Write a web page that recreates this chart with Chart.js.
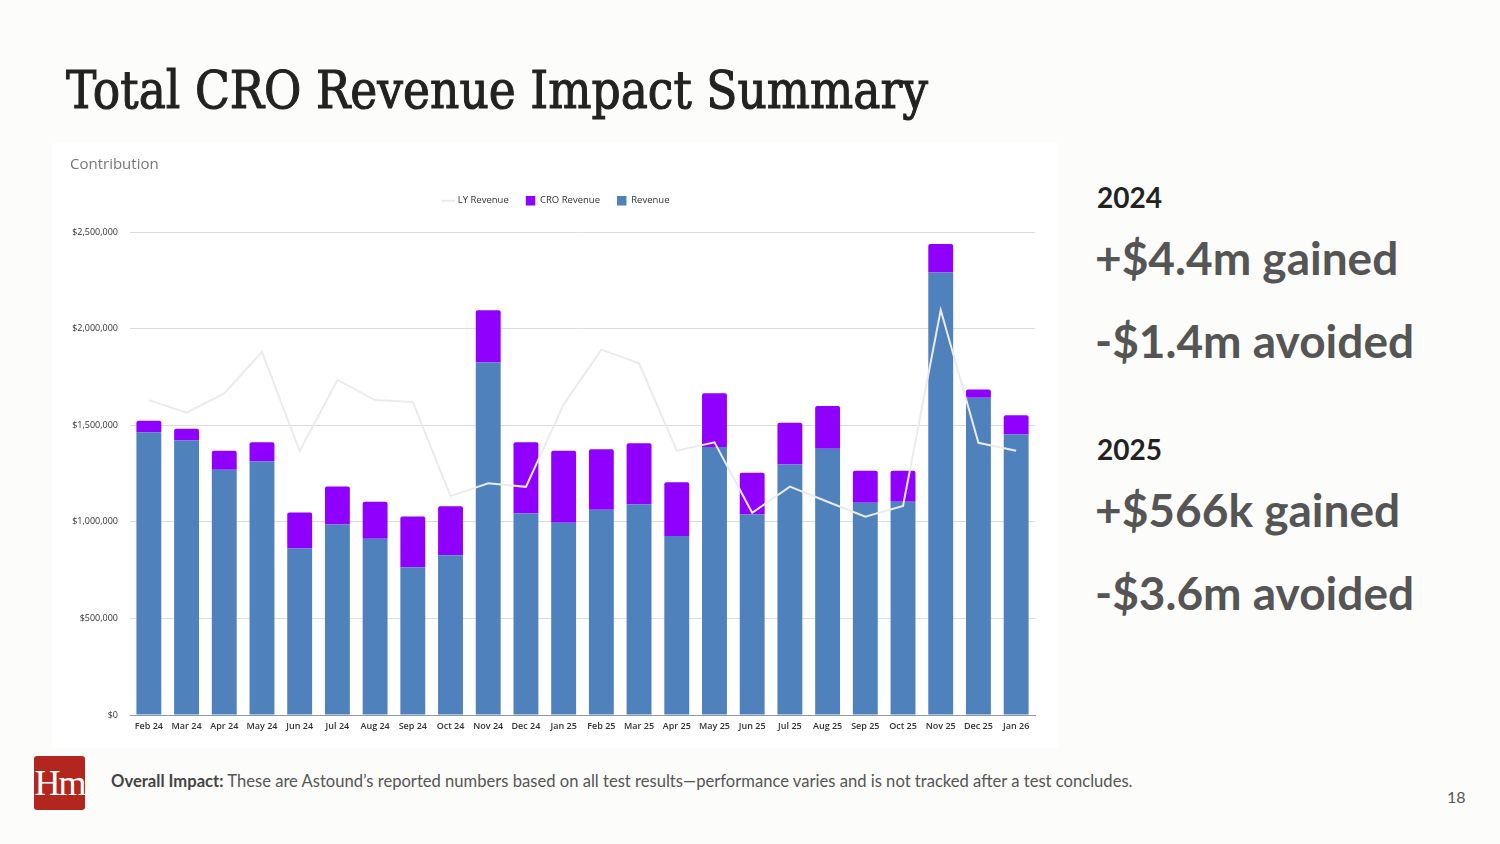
<!DOCTYPE html>
<html>
<head>
<meta charset="utf-8">
<script src="https://cdn.jsdelivr.net/npm/chart.js@4.4.1/dist/chart.umd.min.js"></script>
<style>
  html, body { margin: 0; padding: 0; }
  body { width: 1500px; height: 844px; background: #fcfcfa; position: relative; overflow: hidden; font-family: Lato, sans-serif; }
  #title { position: absolute; left: 66px; top: 60px; font-family: "DejaVu Serif", serif; font-weight: normal; font-size: 52px; color: #222; -webkit-text-stroke: 1.1px #222; white-space: nowrap; transform-origin: 0 0; }
  #panel { position: absolute; left: 52px; top: 143px; width: 1006px; height: 605px; background: #fff; }
  #panel canvas { position: absolute; left: 0; top: 0; }
  #contrib { position: absolute; left: 18px; top: 10px; font-family: "Open Sans", sans-serif; font-size: 15px; color: #777; }
  .yr { position: absolute; left: 1097px; font-weight: bold; font-size: 28px; color: #222; }
  .big { position: absolute; left: 1095px; font-weight: bold; font-size: 46px; color: #555; white-space: nowrap; }
  #logo { position: absolute; left: 34px; top: 756px; width: 51px; height: 54px; background: #b3261e; border-radius: 3px; color: #fff; font-family: "Liberation Serif", serif; font-size: 36px; line-height: 54px; text-align: center; letter-spacing: -2px; }
  #note { position: absolute; left: 111px; top: 771px; font-size: 16.6px; color: #555; white-space: nowrap; }
  #note b { color: #444; }
  #page { position: absolute; left: 1447px; top: 787px; font-size: 16px; color: #555; }
</style>
</head>
<body>
<div id="title">Total CRO Revenue Impact Summary</div>
<div id="panel">
  <canvas id="c" width="1006" height="605"></canvas>
  <div id="contrib">Contribution</div>
</div>
<div class="yr" style="top:180px">2024</div>
<div class="big" style="top:230px">+$4.4m gained</div>
<div class="big" style="top:313px">-$1.4m avoided</div>
<div class="yr" style="top:432px">2025</div>
<div class="big" style="top:482px">+$566k gained</div>
<div class="big" style="top:565px">-$3.6m avoided</div>
<div id="logo">Hm</div>
<div id="note"><b>Overall Impact:</b> These are Astound’s reported numbers based on all test results—performance varies and is not tracked after a test concludes.</div>
<div id="page">18</div>
<script>
const months = ['Feb 24','Mar 24','Apr 24','May 24','Jun 24','Jul 24','Aug 24','Sep 24','Oct 24','Nov 24','Dec 24','Jan 25',
                'Feb 25','Mar 25','Apr 25','May 25','Jun 25','Jul 25','Aug 25','Sep 25','Oct 25','Nov 25','Dec 25','Jan 26'];
const revenue = [1464000,1421000,1269000,1312000,862000,986000,912000,765000,827000,1825000,1043000,995000,
                 1062000,1090000,926000,1387000,1038000,1297000,1378000,1099000,1104000,2290000,1642000,1452000];
const croRevenue = [59000,61000,99000,100000,186000,197000,192000,263000,254000,270000,369000,373000,
                    314000,316000,279000,278000,216000,216000,221000,165000,160000,148000,43000,99000];
const lyRevenue = [1630000,1565000,1665000,1880000,1366000,1734000,1630000,1620000,1133000,1199000,1181000,1608000,
                   1891000,1820000,1368000,1411000,1047000,1182000,1104000,1026000,1082000,2096000,1409000,1368000];
const yTicks = [0, 500000, 1000000, 1500000, 2000000, 2500000];

const colors = { blue: '#4f81bd', purple: '#9000ff', ly: '#ebebeb', grid: '#dcdcdc', axis: '#8c9bb0', text: '#333' };

// fit title width
const t = document.getElementById('title');
t.style.transform = 'scaleX(' + (862 / t.getBoundingClientRect().width) + ')';

Chart.defaults.font.family = '"Open Sans", sans-serif';
Chart.defaults.color = colors.text;

// legend: fixed height, nudged right so it sits centred over the plot like the original
const legendFix = {
    id: 'legendFix',
    beforeUpdate(chart) {
        const lg = chart.legend;
        if (lg && !lg._patched) {
            const fit = lg.fit;
            lg.fit = function() { fit.call(this); this.height = 53; };
            lg._patched = true;
        }
    },
    afterLayout(chart) {
        chart.legend.left += 13;
        chart.legend.right += 13;
    }
};

new Chart(document.getElementById('c'), {
    type: 'bar',
    data: {
        labels: months,
        datasets: [
            { label: 'Revenue', data: revenue, backgroundColor: colors.blue, stack: 's', order: 2, pointStyle: 'rect',
              barPercentage: 0.66, categoryPercentage: 1 },
            { label: 'CRO Revenue', data: croRevenue, backgroundColor: colors.purple, stack: 's', order: 2, pointStyle: 'rect',
              borderRadius: { topLeft: 2, topRight: 2 }, borderSkipped: 'bottom',
              barPercentage: 0.66, categoryPercentage: 1 },
            { type: 'line', label: 'LY Revenue', data: lyRevenue, borderColor: colors.ly, backgroundColor: colors.ly,
              borderWidth: 2, pointRadius: 0, tension: 0, order: 1, pointStyle: 'line' }
        ]
    },
    options: {
        responsive: false,
        animation: false,
        layout: { padding: { top: 36, right: 23, left: 0, bottom: 0 } },
        plugins: {
            legend: {
                position: 'top',
                labels: {
                    usePointStyle: true,
                    boxWidth: 11, boxHeight: 10,
                    padding: 17,
                    font: { size: 9.5 },
                    color: '#333',
                    sort: (a, b) => b.datasetIndex - a.datasetIndex
                }
            },
            tooltip: { enabled: false }
        },
        scales: {
            x: {
                stacked: true,
                grid: { display: false, drawTicks: false },
                border: { color: colors.axis, width: 1 },
                ticks: { font: { size: 9, weight: '600' }, color: '#333', padding: 6, maxRotation: 0, autoSkip: false },
                afterFit(scale) { scale.height = 33; }
            },
            y: {
                stacked: true,
                min: 0, max: 2500000,
                afterBuildTicks(scale) { scale.ticks = yTicks.map(v => ({ value: v })); },
                grid: { color: colors.grid, drawTicks: false },
                border: { display: false },
                ticks: {
                    font: { size: 9 }, color: '#333', padding: 12,
                    callback: v => '$' + v.toLocaleString('en-US')
                },
                afterFit(scale) { scale.width = 78; }
            }
        }
    },
    plugins: [legendFix]
});
</script>
</body>
</html>
